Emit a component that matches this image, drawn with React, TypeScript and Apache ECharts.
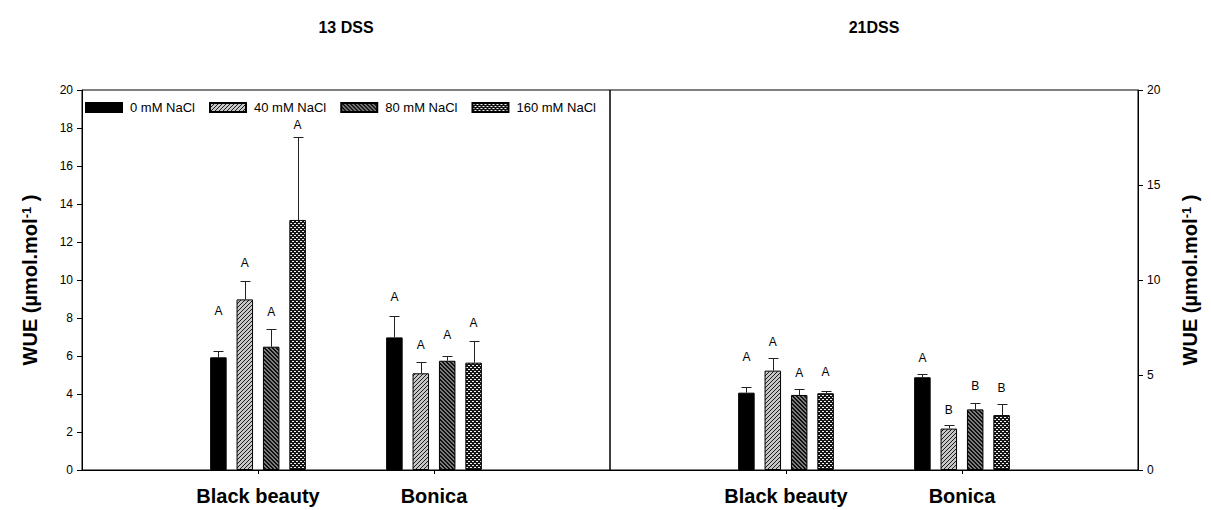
import React, { useEffect, useRef } from "react";
import * as echarts from "echarts";

const FONT = "Liberation Sans, Arial, Helvetica, sans-serif";

const cultivars = ["Black beauty", "Bonica"];
const axisCategories = ["", ...cultivars, ""];
const treatments = ["0 mM NaCl", "40 mM NaCl", "80 mM NaCl", "160 mM NaCl"];
const panelTitles = ["13 DSS", "21DSS"];

// 13 DSS: mean WUE per treatment, as [Black beauty, Bonica]
const mean13 = [
  [5.93, 6.98],
  [8.98, 5.09],
  [6.49, 5.75],
  [13.16, 5.65],
];
const se13 = [
  [0.35, 1.12],
  [0.98, 0.59],
  [0.91, 0.25],
  [4.38, 1.15],
];
const letters13 = [
  ["A", "A"],
  ["A", "A"],
  ["A", "A"],
  ["A", "A"],
];
// height (WUE units) at which each significance letter sits
const letterAt13 = [
  [8.38, 9.12],
  [10.88, 6.58],
  [8.33, 7.1],
  [18.16, 7.72],
];

// 21 DSS
const mean21 = [
  [4.07, 4.88],
  [5.23, 2.18],
  [3.95, 3.19],
  [4.04, 2.89],
];
const se21 = [
  [0.32, 0.16],
  [0.68, 0.17],
  [0.31, 0.35],
  [0.13, 0.57],
];
const letters21 = [
  ["A", "A"],
  ["A", "B"],
  ["A", "B"],
  ["A", "B"],
];
const letterAt21 = [
  [5.93, 5.88],
  [6.75, 3.16],
  [5.12, 4.42],
  [5.17, 4.3],
];

const yMin = 0;
const yMax = 20;
const leftTickStep = 2;
const rightTickStep = 5;

const BAR_W = 16.5;
const GAP_RATIO = 0.6;
const STEP = BAR_W * (1 + GAP_RATIO);

type Painter = (x: number, y: number) => string;

function makeTile(size: number, paint: Painter) {
  const c = document.createElement("canvas");
  c.width = size;
  c.height = size;
  const ctx = c.getContext("2d")!;
  for (let y = 0; y < size; y++) {
    for (let x = 0; x < size; x++) {
      ctx.fillStyle = paint(x, y);
      ctx.fillRect(x, y, 1, 1);
    }
  }
  return { image: c, repeat: "repeat", imageWidth: size, imageHeight: size };
}

function buildFills() {
  const solid = "#000000";
  // light grey with thin rising hatching
  const rising = makeTile(4, (x, y) => ((x + y) % 4 === 0 ? "#1e1e1e" : "#c6c6c6"));
  // dark grey with falling hatching
  const falling = makeTile(4, (x, y) =>
    (x - y + 8) % 4 === 0 || (x - y + 8) % 4 === 1 ? "#111111" : "#7c7c7c"
  );
  // dark crosshatch with light dots
  const cross = makeTile(4, (x, y) => {
    const on = (x === 1 && y === 1) || (x === 3 && y === 3) || (x === 0 && y === 1) || (x === 2 && y === 3);
    return on ? "#f4f4f4" : "#161616";
  });
  return [solid, rising, falling, cross];
}

export default function App() {
  const ref = useRef<HTMLDivElement>(null);

  useEffect(() => {
    if (!ref.current) return;
    const chart = echarts.init(ref.current, undefined, { renderer: "svg" });
    const fills = buildFills();

    const panels = [
      { mean: mean13, se: se13, letters: letters13, letterAt: letterAt13 },
      { mean: mean21, se: se21, letters: letters21, letterAt: letterAt21 },
    ];

    const series: any[] = [];
    panels.forEach((p, g) => {
      treatments.forEach((name, t) => {
        series.push({
          type: "bar",
          name,
          xAxisIndex: g,
          yAxisIndex: g,
          barWidth: BAR_W,
          barGap: `${GAP_RATIO * 100}%`,
          data: cultivars.map((c, i) => [c, p.mean[t][i]]),
          itemStyle: { color: fills[t], borderColor: "#000", borderWidth: 1 },
          emphasis: { disabled: true },
          z: 2,
        });
        series.push({
          type: "custom",
          name: `${name} SE`,
          xAxisIndex: g,
          yAxisIndex: g,
          clip: false,
          silent: true,
          z: 5,
          encode: { x: 0, y: 1 },
          data: cultivars.map((c, i) => [c, p.mean[t][i], p.se[t][i], p.letterAt[t][i]]),
          renderItem: (params: any, api: any) => {
            const idx = api.value(0);
            const m = api.value(1);
            const e = api.value(2);
            const ly = api.value(3);
            const base = api.coord([idx, m]);
            const top = api.coord([idx, m + e]);
            const lab = api.coord([idx, ly]);
            const x = Math.round(base[0] + (t - 1.5) * STEP) + 0.5;
            const yTop = Math.round(top[1]) + 0.5;
            return {
              type: "group",
              children: [
                {
                  type: "line",
                  shape: { x1: x, y1: base[1], x2: x, y2: yTop },
                  style: { stroke: "#222", lineWidth: 1 },
                },
                {
                  type: "line",
                  shape: { x1: x - 5, y1: yTop, x2: x + 5, y2: yTop },
                  style: { stroke: "#222", lineWidth: 1 },
                },
                {
                  type: "text",
                  x: base[0] + (t - 1.5) * STEP,
                  y: lab[1],
                  style: {
                    text: p.letters[t][params.dataIndex],
                    fontSize: 12,
                    fontFamily: FONT,
                    fill: "#000",
                    align: "center",
                    verticalAlign: "middle",
                  },
                },
              ],
            };
          },
        });
      });
    });

    const yName = "{t|WUE (µmol.mol}{s|-1}{t| )}";
    const yNameStyle = {
      fontFamily: FONT,
      fontWeight: "bold",
      fontSize: 20,
      color: "#000",
      rich: {
        t: { fontFamily: FONT, fontWeight: "bold", fontSize: 20, color: "#000" },
        s: { fontFamily: FONT, fontWeight: "bold", fontSize: 13, color: "#000", verticalAlign: "top" },
      },
    };

    const xAxisBase = (g: number) => ({
      type: "category",
      gridIndex: g,
      data: axisCategories,
      boundaryGap: false,
      axisLine: { show: true, lineStyle: { color: "#000", width: 1 } },
      axisTick: {
        show: true,
        length: 4,
        interval: (i: number) => i === 1 || i === 2,
        lineStyle: { color: "#000" },
      },
      axisLabel: {
        interval: 0,
        fontSize: 20,
        fontWeight: "bold",
        fontFamily: FONT,
        color: "#000",
        margin: 16,
      },
      splitLine: { show: false },
    });

    const yAxisBase = (g: number, step: number, position: string, gap: number) => ({
      type: "value",
      gridIndex: g,
      min: yMin,
      max: yMax,
      interval: step,
      position,
      axisLine: { show: true, lineStyle: { color: "#000", width: 1 } },
      axisTick: { show: true, length: 5, inside: false, lineStyle: { color: "#000" } },
      axisLabel: { fontSize: 12, fontFamily: FONT, color: "#000", margin: 9 },
      splitLine: { show: false },
      name: yName,
      nameLocation: "middle",
      nameRotate: 90,
      nameGap: gap,
      nameTextStyle: yNameStyle,
    });

    chart.setOption({
      animation: false,
      backgroundColor: "#fff",
      title: panelTitles.map((text, g) => ({
        text,
        left: g === 0 ? 346 : 874,
        top: 19,
        textAlign: "center",
        padding: 0,
        textStyle: { fontSize: 16, fontWeight: "bold", fontFamily: FONT, color: "#000" },
      })),
      legend: {
        data: treatments,
        left: 85,
        top: 101,
        padding: 0,
        icon: "rect",
        itemWidth: 36,
        itemHeight: 9,
        itemGap: 14,
        selectedMode: false,
        textStyle: { fontSize: 13, fontFamily: FONT, color: "#000", padding: [0, 0, 0, 3] },
      },
      grid: [
        { left: 82, top: 90, width: 528, height: 380, show: true, borderColor: "#000", borderWidth: 1, backgroundColor: "transparent" },
        { left: 610, top: 90, width: 528, height: 380, show: true, borderColor: "#000", borderWidth: 1, backgroundColor: "transparent" },
      ],
      xAxis: [xAxisBase(0), xAxisBase(1)],
      yAxis: [yAxisBase(0, leftTickStep, "left", 42), yAxisBase(1, rightTickStep, "right", 42)],
      series,
    });

    return () => chart.dispose();
  }, []);

  return (
    <div
      ref={ref}
      style={{ position: "fixed", left: 0, top: 0, width: 1211, height: 510, background: "#fff" }}
    />
  );
}
